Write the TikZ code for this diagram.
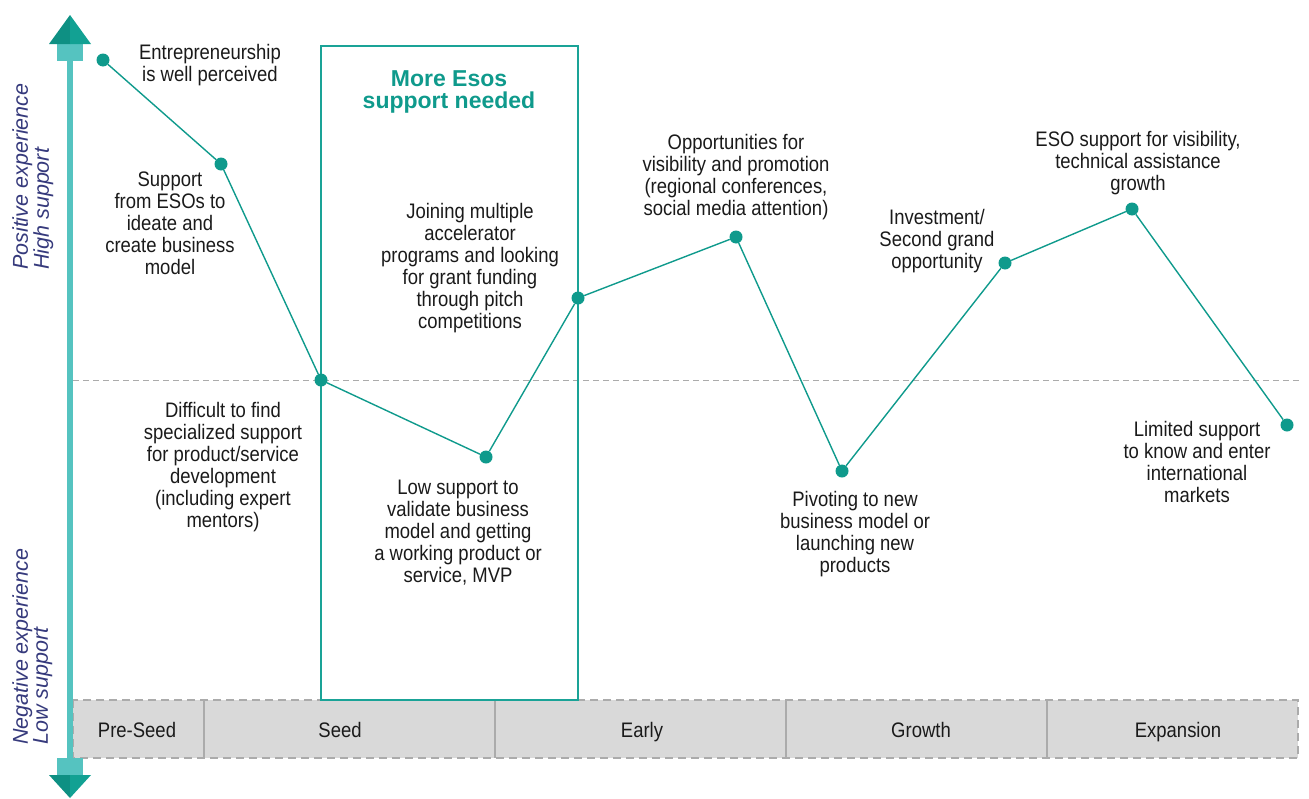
\documentclass[tikz,border=0pt]{standalone}
\usepackage{fontspec}
\setmainfont{Liberation Sans}[FakeStretch=0.88]
\newfontfamily\titlefont{Liberation Sans}
\newfontfamily\axisfont{Liberation Sans}
\definecolor{teal1}{HTML}{0F9A8C}
\definecolor{tealbox}{HTML}{1AA397}
\definecolor{teallight}{HTML}{55C3C0}
\definecolor{tealdark}{HTML}{0E9083}
\definecolor{tealmid}{HTML}{12A193}
\definecolor{navy}{HTML}{363A7C}
\definecolor{txt}{HTML}{1A1A1A}
\definecolor{barfill}{HTML}{D9D9D9}
\definecolor{bardash}{HTML}{ABABAB}
\tikzset{
  dot/.style={circle,fill=teal1,inner sep=0pt,minimum size=13pt},
  conn/.style={draw=teal1,line width=1.4pt},
  lbl/.style={align=center,text=txt,inner sep=0pt,font=\fontsize{21}{22}\selectfont},
  stage/.style={text=txt,inner sep=0pt,anchor=base,font=\fontsize{21}{22}\selectfont},
  axislbl/.style={align=left,text=navy,inner sep=0pt,rotate=90,font=\axisfont\itshape\fontsize{21.5}{20}\selectfont},
}
\begin{document}
\begin{tikzpicture}[x=1pt,y=-1pt]
\useasboundingbox (0,0) rectangle (1309,798);
% midline
\draw[bardash,line width=1pt,dash pattern=on 6pt off 4pt] (73,380) -- (1302,380);
% stage bar
\fill[barfill] (73,700) rectangle (1298,758);
\draw[bardash,line width=1.2pt,dash pattern=on 8pt off 5pt] (73,700) rectangle (1298,758);
\foreach \xx in {204,495,786,1047} \draw[bardash,line width=1.2pt] (\xx,700) -- (\xx,758);
\node[stage] (s1) at (137,737.5) {Pre-Seed};
\node[stage] (s2) at (340,737.5) {Seed};
\node[stage] (s3) at (642,737.5) {Early};
\node[stage] (s4) at (921,737.5) {Growth};
\node[stage] (s5) at (1178,737.5) {Expansion};
% vertical axis
\draw[teallight,line width=6pt] (70,60) -- (70,759);
\fill[teallight] (57,43) rectangle (83,61);
\fill[tealdark] (70,15) -- (49,44) -- (70,44) -- cycle;
\fill[tealmid] (70,15) -- (91,44) -- (70,44) -- cycle;
\fill[teallight] (57,758) rectangle (83,776);
\fill[tealdark] (70,798) -- (49,775) -- (70,775) -- cycle;
\fill[tealmid] (70,798) -- (91,775) -- (70,775) -- cycle;
\node[axislbl,anchor=north west] (ax1) at (12,270) {Positive experience\\High support};
\node[axislbl,anchor=north west] (ax2) at (12,745) {Negative experience\\Low support};
% box
\draw[tealbox,line width=2.5pt] (321,46) rectangle (578,700);
\node[align=center,text=teal1,inner sep=0pt,font=\titlefont\bfseries\fontsize{23}{22}\selectfont] (title) at (449,92) {More Esos\\support needed};
% dots
\node[dot] (p1) at (103,60) {};
\node[dot] (p2) at (221,164) {};
\node[dot] (p3) at (321,380) {};
\node[dot] (p4) at (486,457) {};
\node[dot] (p5) at (578,298) {};
\node[dot] (p6) at (736,237) {};
\node[dot] (p7) at (842,471) {};
\node[dot] (p8) at (1005,263) {};
\node[dot] (p9) at (1132,209) {};
\node[dot] (p10) at (1287,425) {};
\draw[conn] (p1) -- (p2);
\draw[conn] (p2) -- (p3);
\draw[conn] (p3) -- (p4);
\draw[conn] (p4) -- (p5);
\draw[conn] (p5) -- (p6);
\draw[conn] (p6) -- (p7);
\draw[conn] (p7) -- (p8);
\draw[conn] (p8) -- (p9);
\draw[conn] (p9) -- (p10);
% labels
\node[lbl] (t1) at (210,65) {Entrepreneurship\\is well perceived};
\node[lbl] (t2) at (170,223) {Support\\from ESOs to\\ideate and\\create business\\model};
\node[lbl] (t3) at (223,467) {Difficult to find\\specialized support\\for product/service\\development\\(including expert\\mentors)};
\node[lbl] (t4) at (470,268) {Joining multiple\\accelerator\\programs and looking\\for grant funding\\through pitch\\competitions};
\node[lbl] (t5) at (458,533) {Low support to\\validate business\\model and getting\\a working product or\\service, MVP};
\node[lbl] (t6) at (736,177) {Opportunities for\\visibility and promotion\\(regional conferences,\\social media attention)};
\node[lbl] (t7) at (855,534) {Pivoting to new\\business model or\\launching new\\products};
\node[lbl] (t8) at (937,241) {Investment/\\Second grand\\opportunity};
\node[lbl] (t9) at (1138,163) {ESO support for visibility,\\technical assistance\\growth};
\node[lbl] (t10) at (1197,462) {Limited support\\to know and enter\\international\\markets};
\end{tikzpicture}
\end{document}
